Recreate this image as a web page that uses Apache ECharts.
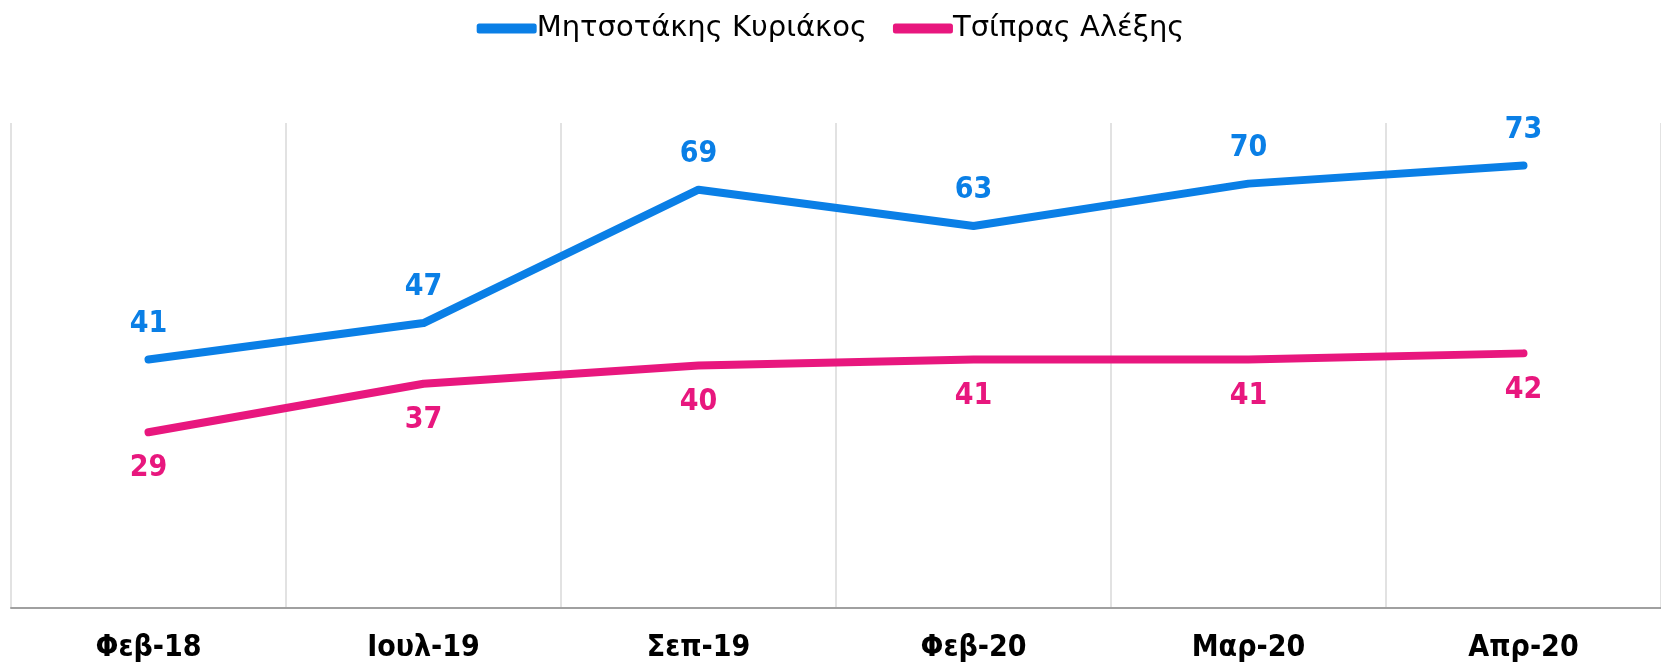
<!DOCTYPE html>
<html>
<head>
<meta charset="utf-8">
<script src="https://cdn.jsdelivr.net/npm/echarts@6/dist/echarts.min.js"></script>
<style>
  html, body { margin: 0; padding: 0; background: #fff; }
  #chart { width: 1661px; height: 667px; }
</style>
</head>
<body>
<div id="chart"></div>
<script>
// data
const months = ["Φεβ-18", "Ιουλ-19", "Σεπ-19", "Φεβ-20", "Μαρ-20", "Απρ-20"];
const mitsotakis = [41, 47, 69, 63, 70, 73];
const tsipras = [29, 37, 40, 41, 41, 42];
const seriesNames = ["Μητσοτάκης Κυριάκος", "Τσίπρας Αλέξης"];

const blue = "#0a7fe6";
const pink = "#e8177e";
const font = "DejaVu Sans Condensed";

const chart = echarts.init(document.getElementById("chart"));

chart.setOption({
  animation: false,
  legend: {
    top: 9,
    left: "center",
    itemWidth: 60,
    itemHeight: 10,
    itemGap: 26,
    icon: "roundRect",
    textStyle: {
      fontFamily: "DejaVu Sans",
      fontSize: 29,
      color: "#000",
      padding: [0, 0, 0, -5],
    },
    data: seriesNames,
  },
  grid: {
    left: 11,
    right: 0,
    top: 123,
    bottom: 59,
  },
  xAxis: {
    type: "category",
    data: months,
    boundaryGap: true,
    axisLine: { lineStyle: { color: "#a0a0a0", width: 2 } },
    axisTick: { show: false },
    axisLabel: {
      margin: 25,
      fontFamily: font,
      fontWeight: "bold",
      fontSize: 30,
      color: "#000",
    },
    splitLine: { show: true, lineStyle: { color: "#d9d9d9", width: 1.5 } },
  },
  yAxis: {
    type: "value",
    min: 0,
    max: 80,
    show: false,
    splitLine: { show: false },
  },
  series: [
    {
      name: seriesNames[0],
      type: "line",
      data: mitsotakis,
      symbol: "circle",
      symbolSize: 1,
      color: blue,
      lineStyle: { width: 8, cap: "round", join: "round", color: blue },
      label: {
        show: true,
        position: "top",
        distance: 20,
        fontFamily: font,
        fontWeight: "bold",
        fontSize: 30,
        color: blue,
      },
    },
    {
      name: seriesNames[1],
      type: "line",
      data: tsipras,
      symbol: "circle",
      symbolSize: 1,
      color: pink,
      lineStyle: { width: 8, cap: "round", join: "round", color: pink },
      label: {
        show: true,
        position: "bottom",
        distance: 21,
        fontFamily: font,
        fontWeight: "bold",
        fontSize: 30,
        color: pink,
      },
    },
  ],
});
</script>
</body>
</html>
